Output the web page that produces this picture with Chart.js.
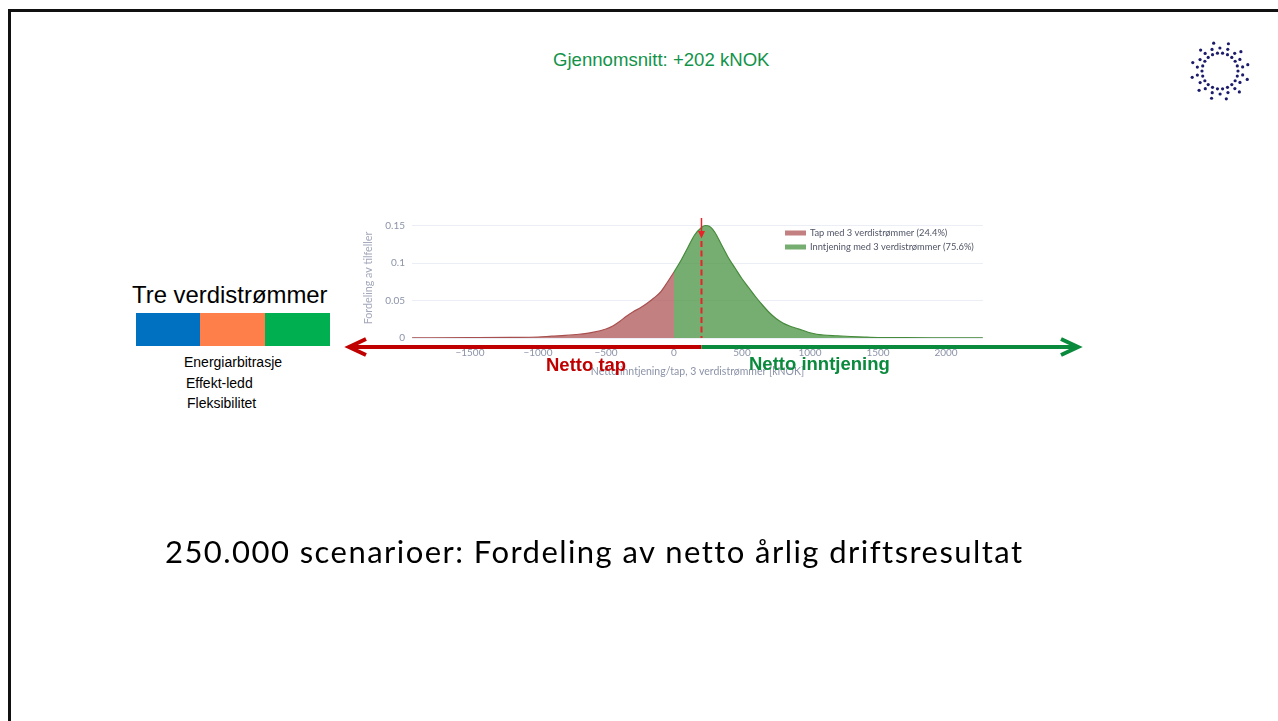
<!DOCTYPE html>
<html>
<head>
<meta charset="utf-8">
<title>Fordeling av netto årlig driftsresultat</title>
<script src="https://cdn.jsdelivr.net/npm/chart.js@4.4.1/dist/chart.umd.min.js"></script>
<style>
  html, body { margin: 0; padding: 0; background: #fff; }
  body { width: 1278px; height: 721px; position: relative; overflow: hidden; font-family: "Liberation Sans", Arial, sans-serif; }
  #frame { position: absolute; left: 8px; top: 9px; width: 1300px; height: 740px; border: 3px solid #111; box-sizing: border-box; }
  #chart { position: absolute; left: 0; top: 0; }
  #logo { position: absolute; left: 1185px; top: 36px; }
  .txt { position: absolute; white-space: nowrap; line-height: 1; }
  .bar { position: absolute; top: 313px; height: 33px; width: 65px; }
</style>
</head>
<body>
<div id="frame"></div>

<div class="txt" style="left:553px; top:51px; font-size:18.6px; color:#13934a;">Gjennomsnitt: +202 kNOK</div>

<div class="txt" style="left:132px; top:283px; font-size:23.9px; color:#000;">Tre verdistrømmer</div>
<div class="bar" style="left:136px; background:#0070c0;"></div>
<div class="bar" style="left:200px; background:#ff7f4a;"></div>
<div class="bar" style="left:265px; background:#00b050;"></div>
<div class="txt" style="left:184px; top:355px; font-size:14px; color:#000;">Energiarbitrasje</div>
<div class="txt" style="left:186px; top:376px; font-size:14px; color:#000;">Effekt-ledd</div>
<div class="txt" style="left:187px; top:396px; font-size:14px; color:#000;">Fleksibilitet</div>

<canvas id="chart" width="1278" height="721"></canvas>
<canvas id="logo" width="70" height="70"></canvas>

<div class="txt" style="left:546px; top:356px; font-size:18.5px; font-weight:bold; color:#c00000; z-index:2;">Netto tap</div>
<div class="txt" style="left:749px; top:355px; font-size:18.5px; font-weight:bold; color:#0a8a3c; z-index:2;">Netto inntjening</div>

<div class="txt" style="left:165px; top:536px; font-size:31px; letter-spacing:1.45px; font-family:Lato, 'Open Sans', sans-serif; color:#000;">250.000 scenarioer: Fordeling av netto årlig driftsresultat</div>

<script>
// ---------- data ----------
const lossX = [-1925, -1500, -1200, -1000, -900, -800, -700, -600, -500, -450, -400, -350, -300, -250, -200, -150, -100, -50, 0];
const lossY = [0.0003, 0.0005, 0.0008, 0.0013, 0.0025, 0.0035, 0.005, 0.0075, 0.012, 0.016, 0.022, 0.029, 0.035, 0.040, 0.046, 0.053, 0.061, 0.074, 0.088];

const gainX = [0, 50, 100, 150, 200, 230, 260, 300, 350, 400, 450, 500, 550, 600, 650, 700, 750, 800, 850, 900, 950, 1000, 1050, 1100, 1200, 1300, 1400, 1500, 1700, 2000, 2270];
const gainY = [0.088, 0.103, 0.120, 0.137, 0.147, 0.150, 0.149, 0.141, 0.124, 0.107, 0.093, 0.079, 0.067, 0.055, 0.044, 0.034, 0.026, 0.020, 0.016, 0.013, 0.010, 0.007, 0.005, 0.004, 0.003, 0.002, 0.0012, 0.0006, 0.0004, 0.0003, 0.0002];

const xTicks = [-1500, -1000, -500, 0, 500, 1000, 1500, 2000];
const yTicks = [0, 0.05, 0.1, 0.15];
const seriesLabels = ['Tap med 3 verdistrømmer (24.4%)', 'Inntjening med 3 verdistrømmer (75.6%)'];
const meanValue = 202;

const AXIS_GREY = '#8c93a8';
const LOSS_FILL = 'rgba(178, 92, 92, 0.78)';
const LOSS_LINE = '#a8504f';
const GAIN_FILL = 'rgba(84, 152, 76, 0.8)';
const GAIN_LINE = '#468a3c';

function toPoints(xs, ys) {
  return xs.map((x, i) => ({ x: x, y: ys[i] }));
}

function fmtTick(v) {
  return v < 0 ? '\u2212' + Math.abs(v) : String(v);
}

// ---------- arrows, mean marker and legend ----------
function arrowHead(ctx, tipX, tipY, dx, len, half) {
  ctx.beginPath();
  ctx.moveTo(tipX + dx * len, tipY - half);
  ctx.lineTo(tipX, tipY);
  ctx.lineTo(tipX + dx * len, tipY + half);
  ctx.stroke();
}

const overlayPlugin = {
  id: 'overlay',
  afterDatasetsDraw(chart) {
    const ctx = chart.ctx;
    const xs = chart.scales.x;
    const area = chart.chartArea;
    const mx = xs.getPixelForValue(meanValue);

    ctx.save();
    // dashed mean line
    ctx.strokeStyle = '#e8232a';
    ctx.lineWidth = 2;
    ctx.setLineDash([6, 3.5]);
    ctx.beginPath();
    ctx.moveTo(mx, 241);
    ctx.lineTo(mx, area.bottom);
    ctx.stroke();
    ctx.setLineDash([]);
    ctx.lineWidth = 1.5;
    ctx.beginPath();
    ctx.moveTo(mx, 218);
    ctx.lineTo(mx, 232);
    ctx.stroke();
    ctx.fillStyle = '#e8232a';
    ctx.beginPath();
    ctx.moveTo(mx - 3.5, 231);
    ctx.lineTo(mx + 3.5, 231);
    ctx.lineTo(mx, 238.5);
    ctx.closePath();
    ctx.fill();

    // big arrows under the axis
    const ay = 347;
    ctx.lineWidth = 4;
    ctx.lineCap = 'butt';
    ctx.lineJoin = 'miter';
    ctx.strokeStyle = '#c00000';
    ctx.beginPath();
    ctx.moveTo(mx, ay);
    ctx.lineTo(350, ay);
    ctx.stroke();
    arrowHead(ctx, 349, ay, 1, 17, 8);
    ctx.strokeStyle = '#0a8a3c';
    ctx.beginPath();
    ctx.moveTo(mx, ay);
    ctx.lineTo(1077, ay);
    ctx.stroke();
    arrowHead(ctx, 1078, ay, -1, 17, 8);

    // legend
    const rows = [233, 247];
    chart.data.datasets.forEach((ds, i) => {
      ctx.fillStyle = ds.backgroundColor;
      ctx.fillRect(785, rows[i] - 2.5, 21, 5);
      ctx.fillStyle = '#505566';
      ctx.font = '9.3px Lato, sans-serif';
      ctx.textBaseline = 'middle';
      ctx.textAlign = 'left';
      ctx.fillText(ds.label, 810, rows[i]);
    });
    ctx.restore();
  }
};

new Chart(document.getElementById('chart'), {
  type: 'line',
  data: {
    datasets: [
      {
        label: seriesLabels[0],
        data: toPoints(lossX, lossY),
        backgroundColor: LOSS_FILL,
        borderColor: LOSS_LINE,
        borderWidth: 1.2,
        fill: 'origin',
        pointRadius: 0,
        cubicInterpolationMode: 'monotone'
      },
      {
        label: seriesLabels[1],
        data: toPoints(gainX, gainY),
        backgroundColor: GAIN_FILL,
        borderColor: GAIN_LINE,
        borderWidth: 1.2,
        fill: 'origin',
        pointRadius: 0,
        cubicInterpolationMode: 'monotone'
      }
    ]
  },
  options: {
    responsive: false,
    animation: false,
    layout: { padding: { left: 362, top: 218, right: 295, bottom: 343 } },
    plugins: {
      legend: { display: false },
      tooltip: { enabled: false }
    },
    scales: {
      x: {
        type: 'linear',
        min: -1926,
        max: 2271.5,
        afterBuildTicks: s => { s.ticks = xTicks.map(v => ({ value: v })); },
        afterFit: s => { s.height = 40; },
        grid: { display: false, drawTicks: false },
        border: { display: false },
        ticks: { padding: 9, color: AXIS_GREY, font: { family: 'Lato', size: 10 }, callback: v => fmtTick(v) },
        title: { display: true, text: 'Netto inntjening/tap, 3 verdistrømmer [kNOK]', color: AXIS_GREY, font: { family: 'Lato', size: 10.5 }, padding: 0 }
      },
      y: {
        min: 0,
        max: 0.16,
        afterBuildTicks: s => { s.ticks = yTicks.map(v => ({ value: v })); },
        afterFit: s => { s.width = 50; },
        grid: { color: '#eceef5', drawTicks: false },
        border: { display: false },
        ticks: { padding: 7, color: AXIS_GREY, font: { family: 'Lato', size: 10 }, callback: v => String(v) },
        title: { display: true, text: 'Fordeling av tilfeller', color: '#a3a8ba', font: { family: 'Lato', size: 10.7 }, padding: 0 }
      }
    }
  },
  plugins: [overlayPlugin]
});

// ---------- logo: ring of small dots ----------
(function drawLogo() {
  const c = document.getElementById('logo').getContext('2d');
  const cx = 35, cy = 35;
  const rings = [
    { r: 18, n: 22, off: 0 },
    { r: 23, n: 18, off: 0.17 },
    { r: 28.5, n: 12, off: 0.3 }
  ];
  c.fillStyle = '#1c1c6b';
  rings.forEach(ring => {
    for (let i = 0; i < ring.n; i++) {
      const a = (i / ring.n) * Math.PI * 2 + ring.off;
      c.beginPath();
      c.arc(cx + ring.r * Math.cos(a), cy + ring.r * Math.sin(a), 1.6, 0, Math.PI * 2);
      c.fill();
    }
  });
})();
</script>
</body>
</html>
